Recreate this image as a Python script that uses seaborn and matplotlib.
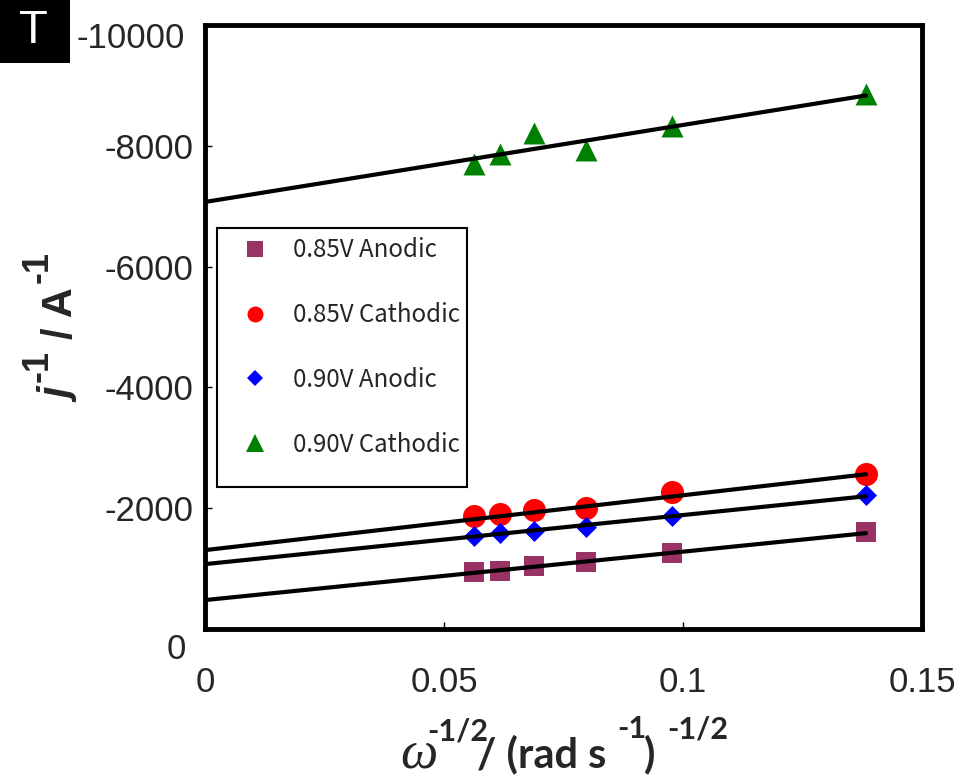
import matplotlib
matplotlib.use("Agg")
import matplotlib.pyplot as plt
import matplotlib.transforms as mtransforms
from matplotlib.patches import Rectangle
from matplotlib.lines import Line2D
import seaborn as sns
import numpy as np

# ---------------- data ----------------
x_vals = [0.0563, 0.0617, 0.0688, 0.0797, 0.0977, 0.1383]
series_names = ["0.85V Anodic", "0.85V Cathodic", "0.90V Anodic", "0.90V Cathodic"]
y_085_anodic = [-937, -964, -1036, -1113, -1251, -1608]
y_085_cathodic = [-1873, -1901, -1972, -2000, -2276, -2562]
y_090_anodic = [-1542, -1587, -1625, -1691, -1873, -2220]
y_090_cathodic = [-7692, -7868, -8220, -7923, -8331, -8855]
fit_intercepts = [-479, -1306, -1074, -7070]
fit_slopes = [-8012, -9082, -8127, -12750]
x_ticks = [0, 0.05, 0.1, 0.15]
x_tick_labels = ["0", "0.05", "0.1", "0.15"]
y_ticks = [0, -2000, -4000, -6000, -8000, -10000]
y_tick_labels = ["0", "-2000", "-4000", "-6000", "-8000", "-10000"]

series_y = [y_085_anodic, y_085_cathodic, y_090_anodic, y_090_cathodic]
colors = ["#993366", "#FF0000", "#0000FF", "#008000"]
markers = ["s", "o", "D", "^"]
sizes = [207, 275, 114, 250]
legend_ms = [12, 11.5, 8.5, 13]

# ---------------- style ----------------
sns.set_style("white")
plt.rcParams["font.family"] = ["Liberation Sans", "DejaVu Sans"]

W, H = 961, 778
fig = plt.figure(figsize=(W / 100, H / 100), dpi=100)
L, R, T, B = 205, 922, 25, 629
ax = fig.add_axes([L / W, 1 - B / H, (R - L) / W, (B - T) / H])

for name, ys, c, m, s in zip(series_names, series_y, colors, markers, sizes):
    sns.scatterplot(x=x_vals, y=ys, marker=m, s=s, color=c, linewidth=0,
                    ax=ax, zorder=3, legend=False)

x_end = x_vals[-1]
for b, m in zip(fit_intercepts, fit_slopes):
    xs = np.array([0.0, x_end])
    sns.lineplot(x=xs, y=b + m * xs, color="black", linewidth=3, ax=ax,
                 zorder=4, legend=False)

ax.set_xlim(0, 0.15)
ax.set_ylim(0, -10000)
ax.set_xticks(x_ticks)
ax.set_xticklabels(x_tick_labels)
ax.set_yticks(y_ticks)
ax.set_yticklabels(y_tick_labels)
ax.set_xlabel("")
ax.set_ylabel("")
for sp in ax.spines.values():
    sp.set_linewidth(3.5)
    sp.set_color("black")
ax.tick_params(axis="both", direction="in", length=5, width=1, color="black",
               labelsize=25, top=False, right=False, left=True, bottom=True)
ax.tick_params(axis="y", pad=8.6)
ax.tick_params(axis="x", pad=26.5)

# nudge end labels of y axis like the reference
fig.canvas.draw()
for lab in ax.get_yticklabels():
    txt = lab.get_text()
    if txt == "-10000":
        off = mtransforms.ScaledTranslation(-8 / 100, -10 / 100, fig.dpi_scale_trans)
        lab.set_transform(lab.get_transform() + off)
    elif txt == "0":
        off = mtransforms.ScaledTranslation(-7 / 100, -17 / 100, fig.dpi_scale_trans)
        lab.set_transform(lab.get_transform() + off)

# legend frame (drawn separately)
def ax_xy(px, py):
    return (px - L) / (R - L), (B - py) / (B - T)

fx0, fy0 = ax_xy(217, 487)
fx1, fy1 = ax_xy(467, 228)
ax.add_patch(Rectangle((fx0, fy0), fx1 - fx0, fy1 - fy0, transform=ax.transAxes,
                       facecolor="white", edgecolor="black", linewidth=1.5, zorder=5))

handles = [Line2D([], [], linestyle="none", marker=m, markersize=ms, color=c,
                  markeredgewidth=0)
           for m, ms, c in zip(markers, legend_ms, colors)]
lx, ly = ax_xy(243, 237)
leg = ax.legend(handles, series_names, loc="upper left", bbox_to_anchor=(lx, ly),
                borderpad=0, borderaxespad=0, handlelength=1.0, handletextpad=1.08,
                labelspacing=1.62, frameon=False,
                prop={"family": ["Noto Sans CJK JP", "DejaVu Sans"], "size": 17.3})
leg.set_zorder(6)

# ---------------- axis labels built from pieces ----------------
ident = mtransforms.IdentityTransform()

def fig_text(px, py, s, **kw):
    # px, py in image pixel coordinates (origin top-left)
    return fig.text(px, H - py, s, transform=ident, **kw)

# x label
xb = 767
sup = 26
lato = ["Lato", "DejaVu Sans"]
fig_text(400, xb + 1, "\u03c9", family="Liberation Serif", style="italic", size=38,
         ha="left", va="baseline")
fig_text(427, xb - sup, "-1/2", family=lato, weight="bold", size=22,
         ha="left", va="baseline")
fig_text(477, xb, "/ (rad s", family=lato, weight="bold", size=30,
         ha="left", va="baseline")
fig_text(617, xb - sup - 3, "-1", family=lato, weight="bold", size=22,
         ha="left", va="baseline")
fig_text(644, xb, ")", family=lato, weight="bold", size=30,
         ha="left", va="baseline")
fig_text(667, xb - sup - 3, "-1/2", family=lato, weight="bold", size=22,
         ha="left", va="baseline")

# y label (rotated)
ybx = 72
rot = dict(rotation=90, rotation_mode="anchor", ha="left", va="baseline",
           family=["Liberation Sans", "DejaVu Sans"], weight="bold")
fig.text(ybx, H - 402, "j", transform=ident, style="italic", size=30, **rot)
fig.text(ybx - 24, H - 382, "-1", transform=ident, size=26, **rot)
fig.text(ybx, H - 339, "/ A", transform=ident, size=30, **rot)
fig.text(ybx - 24, H - 283, "-1", transform=ident, size=26, **rot)

# panel tag
fig.patches.append(Rectangle((0, H - 63), 70, 63, transform=ident, facecolor="black",
                             edgecolor="none", figure=fig))
fig_text(33.5, 43, "T", color="white", size=34, ha="center", va="baseline",
         family=["Liberation Sans", "DejaVu Sans"])

fig.savefig("out.png", dpi=100)
